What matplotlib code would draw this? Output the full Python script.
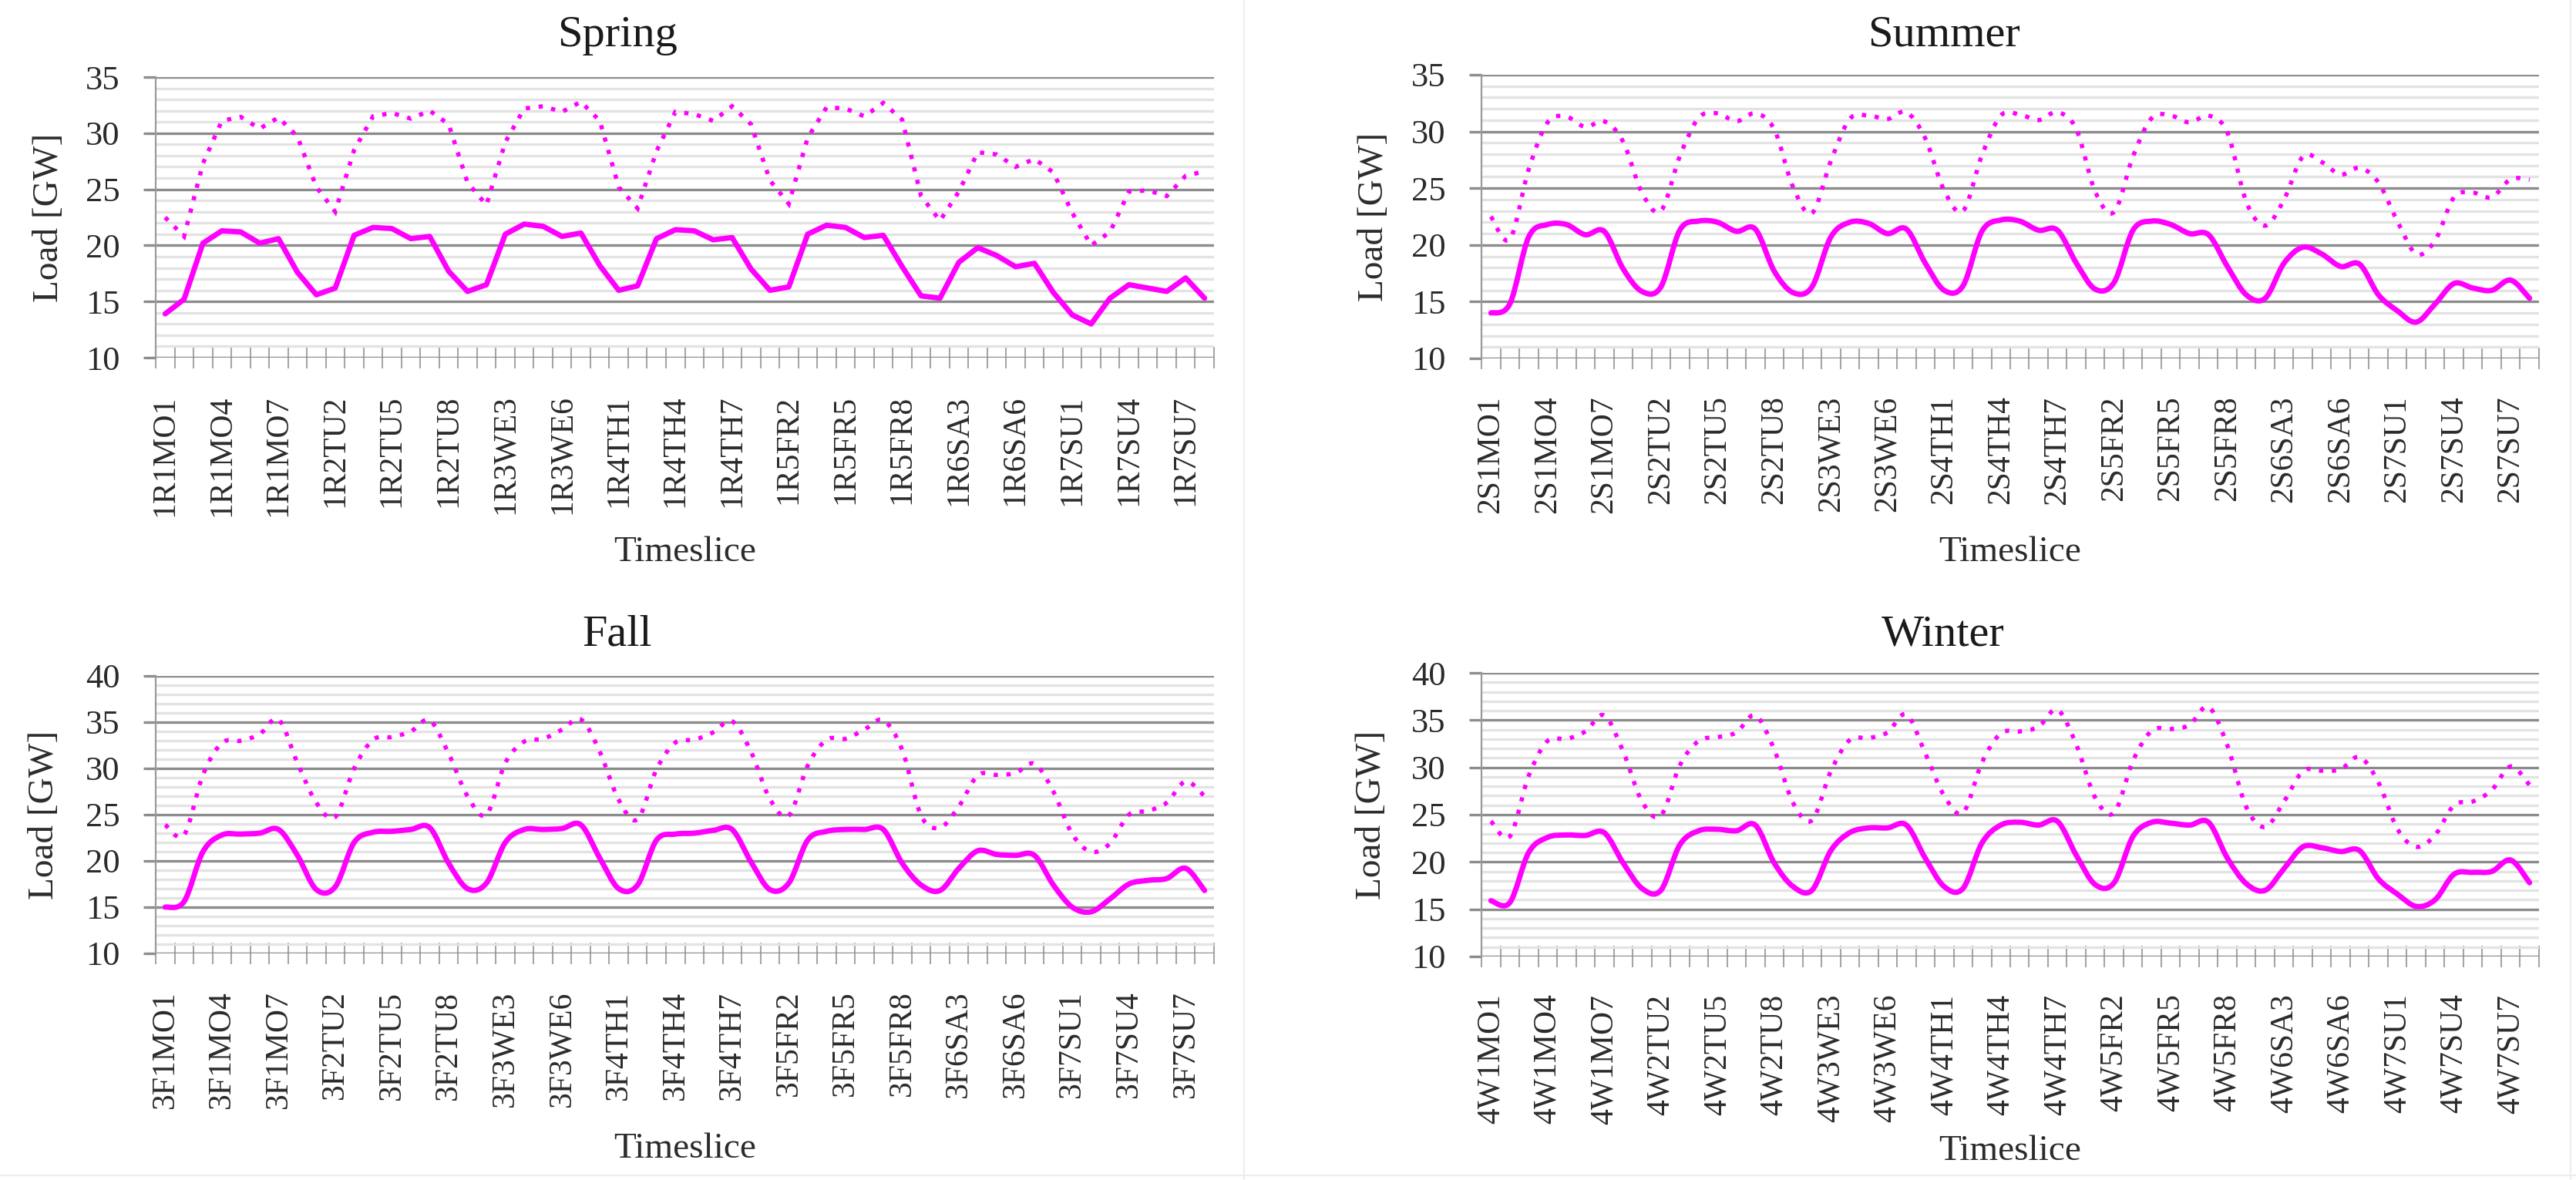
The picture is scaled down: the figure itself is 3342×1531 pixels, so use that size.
import numpy as np
import matplotlib
matplotlib.use("Agg")
import matplotlib.pyplot as plt
from matplotlib.path import Path
from matplotlib.patches import PathPatch

plt.rcParams['font.family'] = ['Liberation Serif', 'DejaVu Serif']

# ---------------- data ----------------
days = ['MO', 'TU', 'WE', 'TH', 'FR', 'SA', 'SU']
slices_per_day = 8

spring_peak = [22.5, 20.8, 27.3, 31.1, 31.45, 30.4, 31.4, 29.7,
               25.2, 23.0, 28.5, 31.5, 31.8, 31.3, 32.0, 30.8,
               25.6, 23.6, 29.2, 32.2, 32.4, 31.9, 32.8, 31.1,
               25.2, 23.3, 28.4, 31.9, 31.7, 31.1, 32.4, 30.8,
               25.8, 23.7, 29.6, 32.3, 32.2, 31.5, 32.7, 31.2,
               24.4, 22.2, 24.8, 28.3, 28.1, 27.0, 27.7, 26.5,
               22.9, 20.0, 21.2, 24.8, 24.9, 24.4, 26.2, 26.6]
spring_avg = [13.9, 15.2, 20.2, 21.3, 21.2, 20.2, 20.6, 17.6,
              15.6, 16.2, 20.9, 21.6, 21.5, 20.6, 20.8, 17.7,
              15.9, 16.5, 21.0, 21.9, 21.7, 20.8, 21.1, 18.2,
              16.0, 16.4, 20.6, 21.4, 21.3, 20.5, 20.7, 17.9,
              16.0, 16.3, 21.0, 21.8, 21.6, 20.7, 20.9, 18.1,
              15.5, 15.3, 18.5, 19.8, 19.1, 18.1, 18.4, 15.8,
              13.8, 13.0, 15.3, 16.5, 16.2, 15.9, 17.1, 15.3]

summer_peak = [22.5, 20.5, 26.65, 30.8, 31.3, 30.4, 30.9, 29.1,
               24.6, 23.0, 27.8, 31.2, 31.6, 30.9, 31.6, 30.2,
               25.1, 22.8, 27.4, 31.1, 31.4, 31.1, 31.7, 29.4,
               24.8, 23.0, 27.9, 31.4, 31.5, 31.0, 31.7, 30.2,
               24.7, 22.9, 27.8, 31.2, 31.4, 30.8, 31.4, 29.9,
               23.8, 21.7, 24.0, 27.8, 27.3, 26.2, 26.8, 25.5,
               22.1, 19.2, 20.4, 24.2, 24.6, 24.2, 25.8, 25.75]
summer_avg = [14.0, 14.8, 20.7, 21.8, 21.8, 20.9, 21.2, 17.9,
              15.9, 16.3, 21.3, 22.1, 22.0, 21.2, 21.4, 17.7,
              15.8, 16.3, 20.7, 22.0, 21.9, 21.0, 21.4, 18.4,
              16.0, 16.4, 21.2, 22.2, 22.1, 21.3, 21.3, 18.4,
              16.1, 16.7, 21.3, 22.1, 21.8, 21.0, 20.9, 18.1,
              15.6, 15.3, 18.4, 19.8, 19.2, 18.1, 18.3, 15.6,
              14.2, 13.2, 14.8, 16.6, 16.2, 16.0, 16.9, 15.3]

fall_peak = [23.9, 22.8, 29.3, 32.75, 33.0, 33.7, 35.3, 30.6,
             26.3, 24.75, 30.0, 33.1, 33.4, 34.0, 35.2, 31.6,
             27.0, 25.0, 30.6, 32.9, 33.2, 34.2, 35.3, 31.8,
             26.6, 24.5, 29.9, 32.8, 33.1, 33.9, 35.1, 31.8,
             26.7, 24.9, 30.3, 33.1, 33.2, 34.2, 35.2, 32.0,
             24.9, 23.6, 25.9, 29.25, 29.3, 29.5, 30.5, 27.5,
             22.9, 21.0, 21.9, 25.0, 25.4, 26.3, 28.6, 27.0]
fall_avg = [15.0, 15.6, 21.0, 22.8, 22.9, 23.0, 23.4, 20.6,
            16.9, 17.2, 22.0, 23.1, 23.2, 23.4, 23.6, 19.75,
            17.0, 17.6, 22.0, 23.4, 23.4, 23.5, 23.9, 20.3,
            17.0, 17.4, 22.25, 22.9, 23.0, 23.3, 23.4, 19.9,
            16.9, 17.6, 22.25, 23.2, 23.4, 23.4, 23.4, 19.75,
            17.4, 16.8, 19.2, 21.1, 20.7, 20.6, 20.6, 17.4,
            15.0, 14.5, 15.9, 17.5, 17.9, 18.1, 19.2, 16.8]

winter_peak = [24.3, 22.7, 29.1, 32.8, 33.0, 33.8, 35.5, 31.7,
               26.4, 24.9, 30.2, 32.8, 33.2, 33.7, 35.5, 31.9,
               26.25, 24.4, 29.6, 32.9, 33.1, 33.7, 35.6, 31.5,
               27.0, 25.2, 30.5, 33.6, 33.8, 34.3, 36.1, 32.4,
               26.8, 25.2, 30.7, 33.9, 34.05, 34.5, 36.4, 32.3,
               25.8, 23.7, 26.4, 29.6, 29.65, 29.8, 31.1, 28.4,
               23.5, 21.6, 22.85, 26.0, 26.4, 27.6, 30.1, 28.15]
winter_avg = [15.9, 15.7, 21.0, 22.6, 22.85, 22.8, 23.1, 19.9,
              17.2, 17.0, 21.8, 23.3, 23.45, 23.3, 23.9, 19.9,
              17.4, 17.0, 21.2, 23.1, 23.6, 23.6, 23.9, 20.4,
              17.4, 17.2, 22.0, 23.9, 24.2, 23.9, 24.3, 20.7,
              17.6, 17.8, 22.7, 24.2, 24.1, 23.9, 24.2, 20.4,
              17.7, 17.0, 19.3, 21.6, 21.5, 21.1, 21.2, 18.2,
              16.6, 15.3, 16.0, 18.7, 18.9, 19.0, 20.2, 17.8]

season_titles = ['Spring', 'Summer', 'Fall', 'Winter']
season_codes = ['1R', '2S', '3F', '4W']
y_max = [35, 35, 40, 40]
smoothed = [False, True, True, True]   # Excel "smoothed line" option per chart


def timeslice_labels(code):
    return [f"{code}{d + 1}{days[d]}{s + 1}"
            for d in range(len(days)) for s in range(slices_per_day)]


def series_path(xs, ys, smooth):
    """Path through the data points; cubic Bezier segments when smoothed."""
    pts = np.column_stack([xs, ys]).astype(float)
    if not smooth:
        return Path(pts)
    verts = [pts[0]]
    codes = [Path.MOVETO]
    n = len(pts)
    for i in range(n - 1):
        p0 = pts[max(i - 1, 0)]
        p1 = pts[i]
        p2 = pts[i + 1]
        p3 = pts[min(i + 2, n - 1)]
        c1 = p1 + (p2 - p0) / 6.0
        c2 = p2 - (p3 - p1) / 6.0
        verts += [c1, c2, p2]
        codes += [Path.CURVE4] * 3
    return Path(np.array(verts), codes)


# ---------------- layout (pixels) ----------------
W, H = 3342, 1531
fig = plt.figure(figsize=(W / 100, H / 100), dpi=100)
fig.patch.set_facecolor('white')

boxes = [(202, 100, 1575, 464), (1922, 97, 3294, 465),
         (202, 877, 1575, 1237), (1922, 873, 3294, 1241)]
title_pos = [(801, 60), (2522, 60), (801, 837), (2521, 837)]
ylabel_x = [64, 1783, 58, 1780]
xlabel_base = [728, 728, 1502, 1505]

fig.add_artist(plt.Line2D([1614 / W, 1614 / W], [0, 1], color='#ededed', lw=1.5))
fig.add_artist(plt.Line2D([3335 / W, 3335 / W], [0, 1], color='#ededed', lw=1.5))
fig.add_artist(plt.Line2D([0, 1], [1 - 1525 / H, 1 - 1525 / H], color='#ededed', lw=1.5))

peaks = [spring_peak, summer_peak, fall_peak, winter_peak]
avgs = [spring_avg, summer_avg, fall_avg, winter_avg]

grid_major = '#8c8c8c'
grid_minor = '#e3e3e3'
magenta = '#FF00FF'
text_col = '#2b2b2b'

for k in range(4):
    l, t, r, b = boxes[k]
    ax = fig.add_axes([l / W, 1 - b / H, (r - l) / W, (b - t) / H])
    n = len(avgs[k])
    x = np.arange(n)

    solid = PathPatch(series_path(x, avgs[k], smoothed[k]), fill=False,
                      edgecolor=magenta, lw=5.0, joinstyle='round',
                      capstyle='round', zorder=4, clip_on=False)
    ax.add_patch(solid)
    dotted = PathPatch(series_path(x, peaks[k], smoothed[k]), fill=False,
                       edgecolor=magenta, lw=4.0, linestyle=(0, (1, 2.0)),
                       capstyle='butt', zorder=4, clip_on=False)
    ax.add_patch(dotted)

    ax.set_xlim(-0.5, n - 0.5)
    ax.set_ylim(10, y_max[k])
    ax.set_yticks(np.arange(10, y_max[k] + 1, 5))
    ax.set_yticks(np.arange(10, y_max[k] + 1, 1), minor=True)
    ax.grid(which='minor', axis='y', color=grid_minor, lw=2.4, zorder=0)
    ax.grid(which='major', axis='y', color=grid_major, lw=2.4, zorder=1)
    ax.set_axisbelow(True)

    labels = timeslice_labels(season_codes[k])
    ax.set_xticks(x[::3])
    ax.set_xticklabels(labels[::3], rotation=90, fontsize=30, color=text_col)
    ax.set_xticks(np.arange(-0.5, n, 1), minor=True)
    ax.tick_params(axis='x', which='major', length=0, pad=35)
    ax.tick_params(axis='x', which='minor', direction='inout', length=20,
                   width=1.5, color='#a6a6a6')
    ax.tick_params(axis='y', which='major', direction='out', length=11.5,
                   width=2.4, color=grid_major, pad=22, labelsize=32,
                   labelcolor=text_col)
    ax.tick_params(axis='y', which='minor', length=0)

    for s in ('top', 'right', 'bottom'):
        ax.spines[s].set_visible(False)
    ax.spines['left'].set_color('#9a9a9a')
    ax.spines['left'].set_linewidth(1.6)
    ax.spines['left'].set_zorder(2)

    tx, ty = title_pos[k]
    fig.text(tx / W, 1 - ty / H, season_titles[k], ha='center', va='baseline',
             fontsize=42, color='#1a1a1a')
    fig.text(ylabel_x[k] / W, 1 - ((t + b) / 2) / H, 'Load [GW]', rotation=90,
             ha='center', va='center', fontsize=34, color=text_col)
    fig.text(((l + r) / 2) / W, 1 - xlabel_base[k] / H, 'Timeslice',
             ha='center', va='baseline', fontsize=34, color=text_col)

fig.savefig('out.png', dpi=100, facecolor='white')
